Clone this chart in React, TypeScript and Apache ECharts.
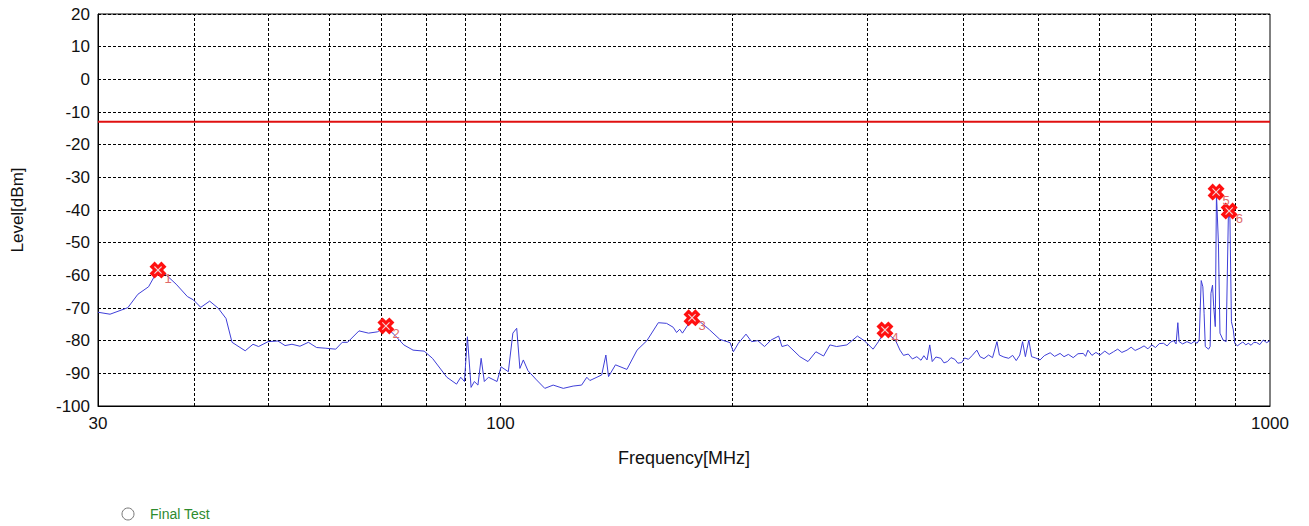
import React, { useEffect, useRef } from "react";
import * as echarts from "echarts";

const TRACE_FREQ = [
  30, 31.1, 32.8, 33.8, 34.9, 35.5, 35.9, 36.6, 37.9, 39.2, 39.9, 40.8, 41.9, 43.0, 44.0, 44.8, 46.6, 47.7, 48.5, 49.9,
  51.4, 52.5, 53.6, 54.9, 56.3, 57.7, 59.2, 61.1, 62.3, 63.3, 65.5, 67.4, 69.2, 71.0, 72.9, 74.9, 77.0, 79.6, 81.6, 85.2,
  87.7, 88.8, 89.8, 90.6, 91.6, 92.5, 93.5, 94.4, 95.3, 96.5, 99.0, 100.2, 102.4, 103.8, 105.0, 106.0, 107.1, 108.6, 111.4, 114.2,
  117.1, 120.7, 124.3, 127.5, 129.5, 130.7, 135.4, 137.1, 138.2, 141.1, 146.0, 150.5, 155.0, 160.4, 164.4, 167.7, 169.4, 171.0, 172.4, 177.4,
  181.7, 187.0, 192.8, 198.8, 200.8, 203.8, 208.5, 212.0, 216.0, 220.4, 224.8, 229.9, 232.2, 236.2, 245.0, 251.0, 257.0, 263.0, 268.0, 273.4,
  282.0, 291.0, 297.0, 305.0, 309.9, 316.0, 321.0, 326.0, 330.5, 334, 338.8, 343, 347.6, 352, 355, 358.4, 361.3, 364, 368, 373.5,
  377, 381, 385, 389.4, 393, 397.6, 401, 405.7, 410, 416, 420, 425, 430.8, 436, 441.8, 445, 451, 457.6, 463, 468,
  473, 477, 481, 486, 490, 496, 502.6, 509, 518, 525, 533.6, 540, 547, 555, 563, 572, 576, 580, 587, 594,
  601.4, 610, 618, 626, 634, 642, 652, 660, 668, 677.8, 686, 694, 702, 710, 718, 727, 735, 743, 750, 755,
  759, 762, 770, 780, 790, 797, 804, 809, 814, 818, 821, 824, 832, 836, 838, 842, 845, 849, 852, 857,
  861, 869, 877, 883, 887, 891, 896, 900, 907, 914, 922, 930, 937, 945, 953, 961, 970, 980, 990, 1000,
];

const TRACE_LEVEL = [
  -71.3, -71.9, -69.9, -65.8, -63.5, -60.4, -58.6, -59.4, -62.7, -66.5, -67.5, -69.8, -67.9, -70.1, -73.2, -80.5, -83.1, -81.1, -81.8, -80.3,
  -80.1, -81.5, -81.1, -81.7, -80.5, -82.1, -82.3, -82.6, -80.5, -80.5, -77.0, -77.7, -77.3, -75.8, -78.3, -81.3, -82.9, -83.2, -85.4, -91.2,
  -93.3, -91.2, -92.5, -78.8, -94.3, -92.5, -93.6, -85.4, -92.5, -91.2, -92.5, -88.0, -89.5, -77.7, -76.2, -88.5, -85.9, -89.2, -92.0, -94.6,
  -93.6, -94.6, -93.9, -93.6, -91.2, -92.2, -90.5, -84.4, -91.0, -87.4, -88.8, -82.9, -80.0, -74.5, -74.7, -75.9, -77.5, -76.5, -77.7, -73.3,
  -74.2, -76.7, -79.6, -80.6, -83.4, -80.8, -78.0, -80.3, -80.0, -81.8, -79.8, -78.6, -81.8, -81.3, -84.9, -86.4, -83.4, -84.7, -81.3, -81.8,
  -81.3, -78.6, -80.0, -82.6, -80.3, -77.0, -78.5, -79.8, -82.9, -84.5, -84.1, -85.6, -84.9, -86.0, -84.6, -85.9, -81.3, -86.4, -85.0, -85.4,
  -86.8, -86.4, -85.2, -85.7, -86.9, -86.7, -85.3, -85.7, -84.6, -82.9, -84.9, -85.5, -84.4, -85.2, -80.3, -84.4, -85.0, -85.4, -84.5, -86.1,
  -84.4, -80.3, -84.9, -79.8, -84.9, -85.3, -85.9, -84.6, -83.7, -84.8, -83.9, -84.9, -84.2, -85.2, -84.0, -83.9, -84.8, -82.9, -84.5, -83.6,
  -84.4, -83.2, -84.2, -83.4, -82.6, -83.6, -82.9, -82.0, -83.0, -82.3, -81.6, -82.5, -81.3, -82.1, -80.9, -80.8, -81.6, -80.4, -80.0, -81.0,
  -74.5, -80.3, -81.0, -80.3, -80.9, -80.2, -80.8, -79.8, -61.6, -63.5, -71.6, -81.8, -82.6, -81.8, -65.5, -63.0, -69.6, -75.7, -35.0, -50.2,
  -77.7, -79.8, -80.3, -40.8, -42.5, -74.2, -76.7, -80.8, -81.6, -81.0, -80.4, -81.3, -80.8, -81.4, -80.5, -80.6, -81.2, -79.8, -80.6, -80.0,
];

const LIMIT_LEVEL = -13;
const MARKER_FREQ = [35.9, 71.0, 177.4, 316, 851, 885];
const MARKER_LEVEL = [-58.4, -75.5, -73.0, -76.7, -34.5, -40.3];
const MARKER_LABEL = ["1", "2", "3", "4", "5", "6"];
const GRID_FREQ = [40, 50, 60, 70, 80, 90, 100, 200, 300, 400, 500, 600, 700, 800, 900];
const X_LABELS = [30, 100, 1000];
const X_MIN = 30;
const X_MAX = 1000;
const Y_MIN = -100;
const Y_MAX = 20;
const Y_STEP = 10;
const LEGEND_NAME = "Final Test";

const X_SHAPE = "path://M3,0 L5,2 L7,0 L10,3 L8,5 L10,7 L7,10 L5,8 L3,10 L0,7 L2,5 L0,3 Z";
const X_THIN = "path://M1,0 L5,4 L9,0 L10,1 L6,5 L10,9 L9,10 L5,6 L1,10 L0,9 L4,5 L0,1 Z";

export default function App() {
  const ref = useRef<HTMLDivElement>(null);
  useEffect(() => {
    if (!ref.current) return;
    const chart = echarts.init(ref.current, undefined, { renderer: "svg" });
    const trace = TRACE_FREQ.map((f, i) => [f, TRACE_LEVEL[i]]);
    const markers = MARKER_FREQ.map((f, i) => ({ value: [f, MARKER_LEVEL[i]], label: MARKER_LABEL[i] }));
    const font = "Liberation Sans, Arial, sans-serif";
    chart.setOption({
      animation: false,
      backgroundColor: "#ffffff",
      grid: {
        left: 98,
        right: 39,
        top: 14,
        bottom: 120,
        show: true,
        borderColor: "#000",
        borderWidth: 1,
        backgroundColor: "#fff",
      },
      graphic: [
        {
          type: "circle",
          shape: { cx: 128, cy: 514, r: 6 },
          style: { fill: "#fff", stroke: "#777", lineWidth: 1 },
        },
        {
          type: "text",
          x: 150,
          y: 514,
          style: {
            text: LEGEND_NAME,
            fill: "#2e8b2e",
            fontSize: 14,
            fontFamily: font,
            verticalAlign: "middle",
          },
        },
      ],
      xAxis: {
        type: "log",
        logBase: 10,
        min: X_MIN,
        max: X_MAX,
        name: "Frequency[MHz]",
        nameLocation: "middle",
        nameGap: 43,
        nameTextStyle: { color: "#111", fontSize: 18, fontFamily: font },
        axisLine: { show: true, onZero: false, lineStyle: { color: "#000" } },
        axisTick: { show: false },
        splitLine: { show: false },
        axisLabel: {
          customValues: X_LABELS,
          color: "#111",
          fontSize: 17,
          fontFamily: font,
          margin: 9,
          formatter: (v: number) => String(Math.round(v)),
        },
      },
      yAxis: {
        type: "value",
        min: Y_MIN,
        max: Y_MAX,
        interval: Y_STEP,
        name: "Level[dBm]",
        nameLocation: "middle",
        nameGap: 72,
        nameTextStyle: { color: "#111", fontSize: 17, fontFamily: font },
        axisLine: { show: true, lineStyle: { color: "#000" } },
        axisTick: { show: false },
        axisLabel: { color: "#111", fontSize: 17, fontFamily: font, margin: 8 },
        splitLine: { show: true, lineStyle: { color: "#000", type: [3, 2], width: 1 } },
      },
      series: [
        {
          name: "Trace",
          type: "line",
          data: trace,
          showSymbol: false,
          symbol: "none",
          lineStyle: { color: "#3f3fd8", width: 1 },
          z: 3,
          markLine: {
            silent: true,
            symbol: ["none", "none"],
            label: { show: false },
            lineStyle: { color: "#000", type: [3, 2], width: 1 },
            data: GRID_FREQ.map((f) => ({ xAxis: f })),
            z: 1,
          },
        },
        {
          name: "Limit",
          type: "line",
          data: [
            [X_MIN, LIMIT_LEVEL],
            [X_MAX, LIMIT_LEVEL],
          ],
          showSymbol: false,
          symbol: "none",
          lineStyle: { color: "#e01010", width: 2 },
          z: 4,
        },
        {
          name: "Markers",
          type: "scatter",
          symbol: X_SHAPE,
          symbolSize: 17,
          itemStyle: { color: "#ff1010", opacity: 1 },
          z: 5,
          data: markers.map((m) => ({
            value: m.value,
            label: {
              show: true,
              formatter: m.label,
              position: [15, 10],
              color: "#e06a6a",
              fontSize: 13,
              fontFamily: font,
            },
          })),
        },
        {
          name: "MarkersInner",
          type: "scatter",
          symbol: X_THIN,
          symbolSize: 8,
          itemStyle: { color: "#f4d4d4", opacity: 1 },
          z: 6,
          data: markers.map((m) => m.value),
        },
      ],
    });
    return () => chart.dispose();
  }, []);
  return (
    <div
      ref={ref}
      style={{ position: "fixed", left: 0, top: 0, width: 1309, height: 526, background: "#fff" }}
    />
  );
}
